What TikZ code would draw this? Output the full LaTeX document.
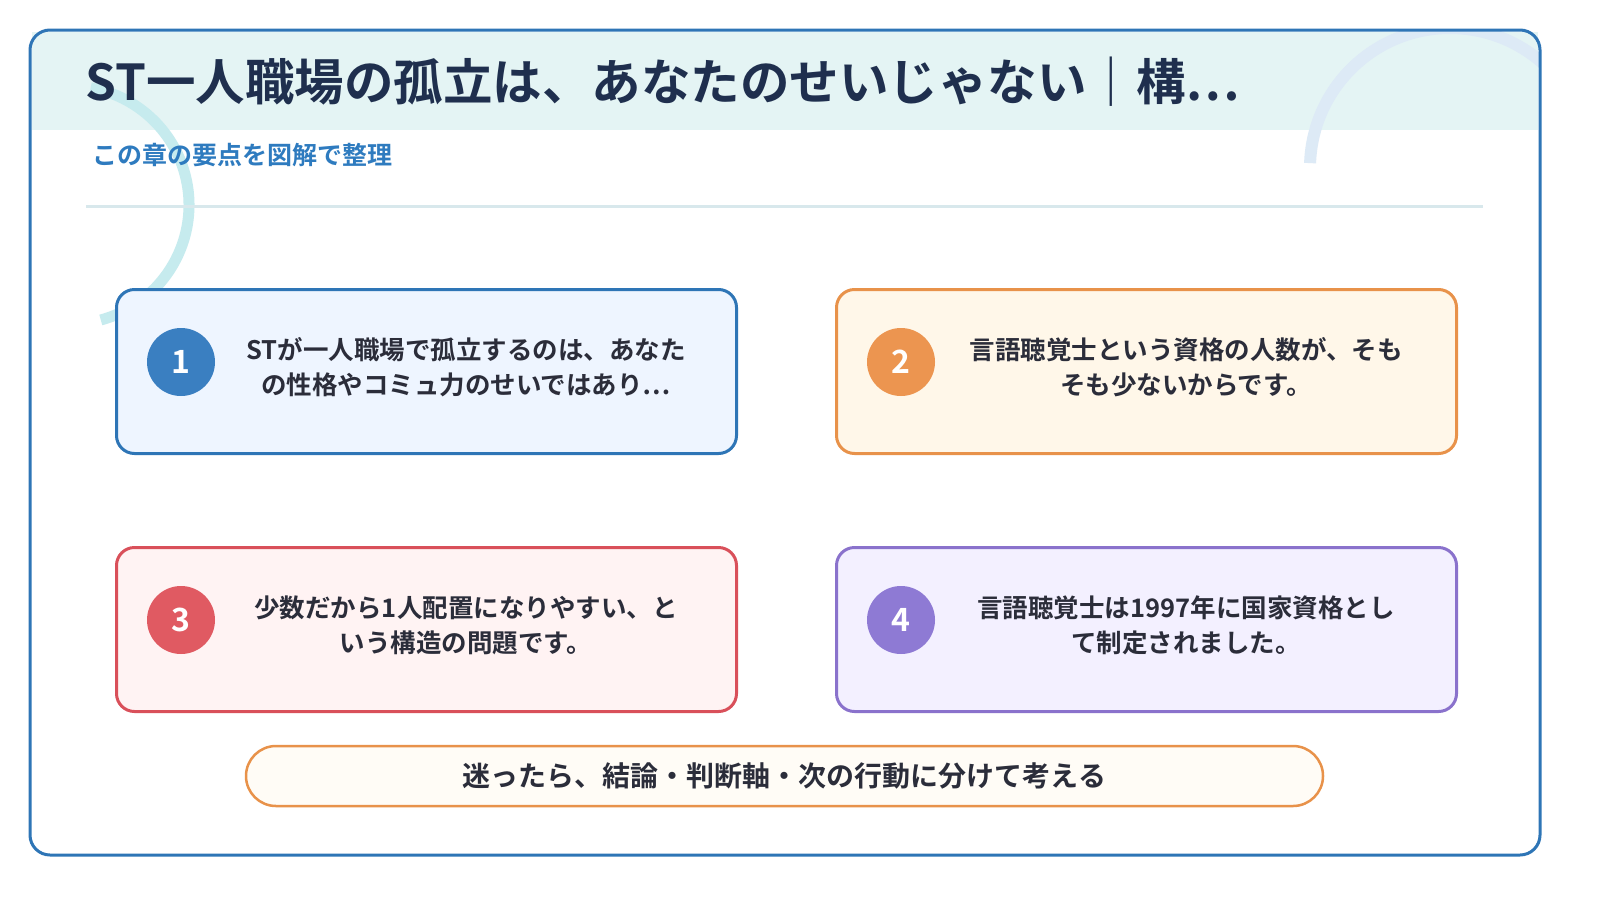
\documentclass[tikz,border=0pt]{standalone}
\usepackage{fontspec}
\setmainfont{Noto Sans CJK JP}[BoldFont={* Bold}]
\definecolor{frameblue}{HTML}{2E75B6}
\definecolor{navy}{HTML}{1F2F4E}
\definecolor{bandc}{HTML}{E4F4F4}
\definecolor{subc}{HTML}{2E7BBF}
\definecolor{linec}{HTML}{D8E8EC}
\definecolor{tealarc}{HTML}{C6EBEE}
\definecolor{bluearc}{HTML}{DDEAF6}
\definecolor{cblue}{HTML}{2E75B6}\definecolor{fblue}{HTML}{EEF5FF}\definecolor{dblue}{HTML}{3A7FC1}
\definecolor{corange}{HTML}{E8924A}\definecolor{forange}{HTML}{FFF7E9}\definecolor{dorange}{HTML}{EC9550}
\definecolor{cred}{HTML}{D9505A}\definecolor{fred}{HTML}{FFF3F3}\definecolor{dred}{HTML}{E05A62}
\definecolor{cpurp}{HTML}{8A72CC}\definecolor{fpurp}{HTML}{F3F0FF}\definecolor{dpurp}{HTML}{8E7AD4}
\definecolor{txt}{HTML}{2B2D3A}
\tikzset{
 card/.style={draw=#1, line width=3pt, rounded corners=18pt, minimum width=620pt, minimum height=164pt, anchor=north west},
 badge/.style={circle, fill=#1, minimum size=68pt, text=white, font=\fontsize{32}{32}\selectfont\bfseries},
 ctext/.style={align=center, text=txt, font=\fontsize{25.5}{35}\selectfont\bfseries},
}
\begin{document}
\begin{tikzpicture}[x=1pt,y=-1pt]
\useasboundingbox (0,0) rectangle (1600,900);
\fill[white] (0,0) rectangle (1600,900);
\fill[bandc] (32,32) rectangle (1538,130);
\draw[tealarc, line width=11pt] (70,205) ++(75:119) arc[start angle=75, end angle=-80, radius=119];
\begin{scope}
\clip (30,30) rectangle (1540,855);
\draw[bluearc, line width=12pt] (1450,168) ++(182:140) arc[start angle=182, end angle=345, radius=140];
\end{scope}
\draw[frameblue, line width=3pt, rounded corners=20pt] (30,30) rectangle (1540,855);
\node[anchor=west, text=navy, font=\fontsize{49.5}{50}\selectfont\bfseries] (title) at (82,82) {ST一人職場の孤立は、あなたのせいじゃない｜構⋯};
\node[anchor=west, text=subc, font=\fontsize{25}{25}\selectfont\bfseries] (sub) at (89,155) {この章の要点を図解で整理};
\draw[linec, line width=3pt] (86,206) coordinate (l1) -- (1483,206) coordinate (l2);
\node[card=cblue, fill=fblue] (c1) at (115,288) {};
\node[badge=dblue] (b1) at (181,362) {1};
\node[ctext] (t1) at (466,367) {STが一人職場で孤立するのは、あなた\\の性格やコミュ力のせいではあり⋯};
\node[card=corange, fill=forange] (c2) at (835,288) {};
\node[badge=dorange] (b2) at (901,362) {2};
\node[ctext] (t2) at (1186,367) {言語聴覚士という資格の人数が、そも\\そも少ないからです。};
\node[card=cred, fill=fred] (c3) at (115,546) {};
\node[badge=dred] (b3) at (181,620) {3};
\node[ctext] (t3) at (466,625) {少数だから1人配置になりやすい、と\\いう構造の問題です。};
\node[card=cpurp, fill=fpurp] (c4) at (835,546) {};
\node[badge=dpurp] (b4) at (901,620) {4};
\node[ctext] (t4) at (1186,625) {言語聴覚士は1997年に国家資格とし\\て制定されました。};
\node[draw=corange, line width=2.5pt, fill=forange!40, rounded corners=30pt, minimum width=1077pt, minimum height=60pt, text=txt, font=\fontsize{28}{28}\selectfont\bfseries] (pill) at (784.5,776) {迷ったら、結論・判断軸・次の行動に分けて考える};
\end{tikzpicture}
\end{document}
